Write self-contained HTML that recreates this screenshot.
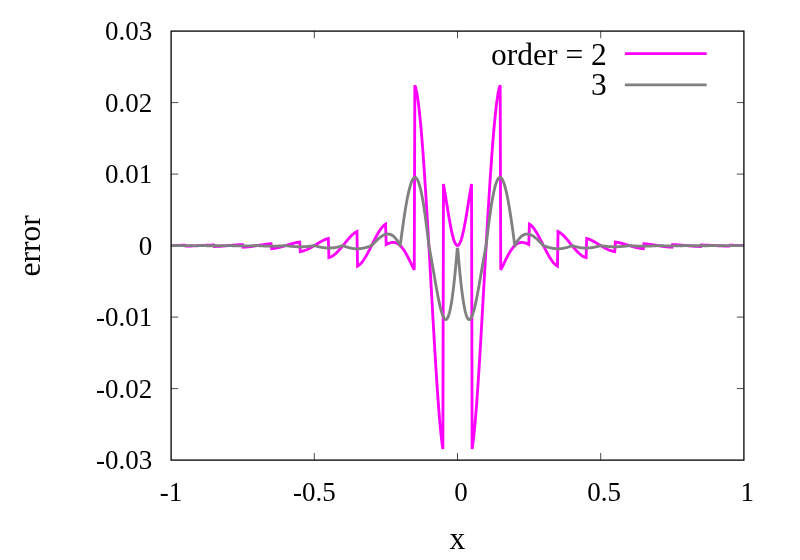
<!DOCTYPE html>
<html><head><meta charset="utf-8"><title>plot</title>
<style>html,body{margin:0;padding:0;background:#fff;}body{width:800px;height:560px;overflow:hidden;font-family:"Liberation Serif",serif;}svg{display:block;will-change:transform;}</style>
</head><body>
<svg width="800" height="560" viewBox="0 0 800 560">
<rect width="800" height="560" fill="#fff"/>
<path d="M171.10,102.60 h7.10 M743.90,102.60 h-7.10 M171.10,174.10 h7.10 M743.90,174.10 h-7.10 M171.10,245.60 h7.10 M743.90,245.60 h-7.10 M171.10,317.10 h7.10 M743.90,317.10 h-7.10 M171.10,388.60 h7.10 M743.90,388.60 h-7.10 M314.30,460.10 v-7.10 M314.30,31.10 v7.10 M457.50,460.10 v-7.10 M457.50,31.10 v7.10 M600.70,460.10 v-7.10 M600.70,31.10 v7.10" stroke="#000" stroke-width="0.7" fill="none"/>
<path d="M171.39,245.59 L171.96,245.57 L172.53,245.55 L173.10,245.53 L173.68,245.51 L174.25,245.50 L174.82,245.48 L175.40,245.46 L175.97,245.44 L176.54,245.42 L177.11,245.40 L177.69,245.39 L178.26,245.37 L178.83,245.35 L179.41,245.34 L179.98,245.32 L180.55,245.31 L181.12,245.30 L181.70,245.28 L182.27,245.27 L182.84,245.26 L183.42,245.25 L183.99,245.24 L184.56,245.23 L185.13,245.22 L185.71,246.14 L186.28,246.13 L186.85,246.12 L187.42,246.11 L188.00,246.10 L188.57,246.09 L189.14,246.07 L189.72,246.05 L190.29,246.04 L190.86,246.02 L191.43,246.00 L192.01,245.97 L192.58,245.95 L193.15,245.93 L193.73,245.90 L194.30,245.88 L194.87,245.85 L195.44,245.82 L196.02,245.79 L196.59,245.77 L197.16,245.74 L197.74,245.71 L198.31,245.68 L198.88,245.65 L199.45,245.62 L200.03,245.58 L200.60,245.55 L201.17,245.52 L201.74,245.49 L202.32,245.46 L202.89,245.43 L203.46,245.40 L204.04,245.37 L204.61,245.34 L205.18,245.31 L205.75,245.28 L206.33,245.25 L206.90,245.23 L207.47,245.20 L208.05,245.18 L208.62,245.15 L209.19,245.13 L209.76,245.10 L210.34,245.08 L210.91,245.06 L211.48,245.05 L212.06,245.03 L212.63,245.01 L213.20,245.00 L213.77,244.99 L214.35,246.51 L214.92,246.50 L215.49,246.48 L216.06,246.47 L216.64,246.44 L217.21,246.42 L217.78,246.39 L218.36,246.37 L218.93,246.34 L219.50,246.30 L220.07,246.27 L220.65,246.23 L221.22,246.19 L221.79,246.15 L222.37,246.11 L222.94,246.07 L223.51,246.02 L224.08,245.98 L224.66,245.93 L225.23,245.88 L225.80,245.83 L226.38,245.78 L226.95,245.73 L227.52,245.68 L228.09,245.63 L228.67,245.57 L229.24,245.52 L229.81,245.47 L230.38,245.42 L230.96,245.36 L231.53,245.31 L232.10,245.26 L232.68,245.21 L233.25,245.16 L233.82,245.11 L234.39,245.06 L234.97,245.01 L235.54,244.97 L236.11,244.92 L236.69,244.88 L237.26,244.84 L237.83,244.79 L238.40,244.76 L238.98,244.72 L239.55,244.69 L240.12,244.66 L240.70,244.63 L241.27,244.60 L241.84,244.58 L242.41,244.56 L242.99,247.22 L243.56,247.19 L244.13,247.17 L244.70,247.14 L245.28,247.10 L245.85,247.06 L246.42,247.01 L247.00,246.96 L247.57,246.91 L248.14,246.85 L248.71,246.79 L249.29,246.72 L249.86,246.65 L250.43,246.58 L251.01,246.51 L251.58,246.43 L252.15,246.35 L252.72,246.27 L253.30,246.18 L253.87,246.10 L254.44,246.01 L255.02,245.92 L255.59,245.83 L256.16,245.74 L256.73,245.65 L257.31,245.55 L257.88,245.46 L258.45,245.37 L259.02,245.27 L259.60,245.18 L260.17,245.08 L260.74,244.99 L261.32,244.90 L261.89,244.81 L262.46,244.72 L263.03,244.63 L263.61,244.55 L264.18,244.46 L264.75,244.38 L265.33,244.30 L265.90,244.23 L266.47,244.16 L267.04,244.09 L267.62,244.02 L268.19,243.96 L268.76,243.91 L269.34,243.85 L269.91,243.81 L270.48,243.76 L271.05,243.73 L271.63,248.63 L272.20,248.59 L272.77,248.54 L273.34,248.48 L273.92,248.41 L274.49,248.33 L275.06,248.25 L275.64,248.15 L276.21,248.05 L276.78,247.94 L277.35,247.83 L277.93,247.71 L278.50,247.58 L279.07,247.45 L279.65,247.31 L280.22,247.16 L280.79,247.01 L281.36,246.86 L281.94,246.70 L282.51,246.54 L283.08,246.37 L283.66,246.21 L284.23,246.03 L284.80,245.86 L285.37,245.69 L285.95,245.51 L286.52,245.34 L287.09,245.16 L287.66,244.98 L288.24,244.80 L288.81,244.63 L289.38,244.45 L289.96,244.28 L290.53,244.11 L291.10,243.94 L291.67,243.77 L292.25,243.61 L292.82,243.45 L293.39,243.30 L293.97,243.15 L294.54,243.01 L295.11,242.87 L295.68,242.74 L296.26,242.61 L296.83,242.50 L297.40,242.39 L297.98,242.29 L298.55,242.20 L299.12,242.11 L299.69,242.04 L300.27,251.57 L300.84,251.49 L301.41,251.40 L301.98,251.28 L302.56,251.14 L303.13,250.99 L303.70,250.83 L304.28,250.64 L304.85,250.44 L305.42,250.23 L305.99,250.01 L306.57,249.77 L307.14,249.51 L307.71,249.25 L308.29,248.97 L308.86,248.69 L309.43,248.39 L310.00,248.09 L310.58,247.78 L311.15,247.46 L311.72,247.13 L312.30,246.80 L312.87,246.46 L313.44,246.12 L314.01,245.77 L314.59,245.43 L315.16,245.07 L315.73,244.72 L316.30,244.37 L316.88,244.02 L317.45,243.67 L318.02,243.32 L318.60,242.98 L319.17,242.64 L319.74,242.30 L320.31,241.97 L320.89,241.65 L321.46,241.33 L322.03,241.02 L322.61,240.73 L323.18,240.44 L323.75,240.17 L324.32,239.90 L324.90,239.66 L325.47,239.42 L326.04,239.20 L326.62,239.00 L327.19,238.82 L327.76,238.66 L328.33,238.51 L328.91,257.59 L329.48,257.43 L330.05,257.23 L330.62,256.99 L331.20,256.72 L331.77,256.42 L332.34,256.08 L332.92,255.72 L333.49,255.32 L334.06,254.89 L334.63,254.44 L335.21,253.95 L335.78,253.45 L336.35,252.92 L336.93,252.37 L337.50,251.79 L338.07,251.20 L338.64,250.59 L339.22,249.96 L339.79,249.32 L340.36,248.67 L340.94,248.00 L341.51,247.33 L342.08,246.64 L342.65,245.95 L343.23,245.25 L343.80,244.55 L344.37,243.84 L344.94,243.14 L345.52,242.44 L346.09,241.74 L346.66,241.04 L347.24,240.35 L347.81,239.67 L348.38,239.00 L348.95,238.35 L349.53,237.70 L350.10,237.07 L350.67,236.46 L351.25,235.87 L351.82,235.30 L352.39,234.76 L352.96,234.24 L353.54,233.75 L354.11,233.28 L354.68,232.85 L355.26,232.46 L355.83,232.10 L356.40,231.78 L356.97,231.50 L357.55,266.10 L358.12,265.80 L358.69,265.43 L359.26,265.00 L359.84,264.51 L360.41,263.97 L360.98,263.37 L361.56,262.72 L362.13,262.02 L362.70,261.27 L363.27,260.48 L363.85,259.64 L364.42,258.77 L364.99,257.86 L365.57,256.91 L366.14,255.93 L366.71,254.93 L367.28,253.90 L367.86,252.84 L368.43,251.77 L369.00,250.67 L369.58,249.56 L370.15,248.44 L370.72,247.31 L371.29,246.17 L371.87,245.03 L372.44,243.89 L373.01,242.74 L373.58,241.61 L374.16,240.48 L374.73,239.36 L375.30,238.26 L375.88,237.17 L376.45,236.10 L377.02,235.05 L377.59,234.03 L378.17,233.04 L378.74,232.08 L379.31,231.16 L379.89,230.27 L380.46,229.42 L381.03,228.62 L381.60,227.86 L382.18,227.15 L382.75,226.50 L383.32,225.90 L383.90,225.36 L384.47,224.88 L385.04,224.46 L385.61,224.12 L386.19,244.46 L386.76,244.18 L387.33,243.92 L387.90,243.67 L388.48,243.44 L389.05,243.22 L389.62,243.02 L390.20,242.85 L390.77,242.70 L391.34,242.58 L391.91,242.49 L392.49,242.43 L393.06,242.40 L393.63,242.41 L394.21,242.46 L394.78,242.54 L395.35,242.67 L395.92,242.84 L396.50,243.06 L397.07,243.32 L397.64,243.62 L398.22,243.98 L398.79,244.38 L399.36,244.83 L399.93,245.33 L400.51,245.88 L401.08,246.48 L401.65,247.13 L402.22,247.83 L402.80,248.57 L403.37,249.37 L403.94,250.20 L404.52,251.09 L405.09,252.01 L405.66,252.98 L406.23,253.98 L406.81,255.02 L407.38,256.10 L407.95,257.20 L408.53,258.32 L409.10,259.47 L409.67,260.63 L410.24,261.81 L410.82,262.99 L411.39,264.17 L411.96,265.34 L412.54,266.50 L413.11,267.64 L413.68,268.75 L414.25,269.83 L414.83,85.31 L415.40,86.88 L415.97,88.97 L416.54,91.59 L417.12,94.71 L417.69,98.33 L418.26,102.43 L418.84,107.00 L419.41,112.02 L419.98,117.49 L420.55,123.39 L421.13,129.69 L421.70,136.39 L422.27,143.47 L422.85,150.91 L423.42,158.68 L423.99,166.78 L424.56,175.18 L425.14,183.87 L425.71,192.81 L426.28,201.99 L426.86,211.38 L427.43,220.96 L428.00,230.72 L428.57,240.61 L429.15,250.62 L429.72,260.72 L430.29,270.88 L430.86,281.07 L431.44,291.28 L432.01,301.46 L432.58,311.59 L433.16,321.63 L433.73,331.57 L434.30,341.36 L434.87,350.98 L435.45,360.39 L436.02,369.56 L436.59,378.46 L437.17,387.06 L437.74,395.32 L438.31,403.21 L438.88,410.70 L439.46,417.75 L440.03,424.33 L440.60,430.41 L441.18,435.95 L441.75,440.92 L442.32,445.28 L442.89,449.02 L443.47,184.07 L444.04,187.29 L444.61,190.65 L445.18,194.10 L445.76,197.62 L446.33,201.18 L446.90,204.76 L447.48,208.31 L448.05,211.83 L448.62,215.27 L449.19,218.63 L449.77,221.87 L450.34,224.98 L450.91,227.92 L451.49,230.69 L452.06,233.27 L452.63,235.64 L453.20,237.78 L453.78,239.69 L454.35,241.34 L454.92,242.73 L455.50,243.86 L456.07,244.71 L456.64,245.28 L457.21,245.56 L457.79,245.56 L458.36,245.28 L458.93,244.71 L459.50,243.86 L460.08,242.73 L460.65,241.34 L461.22,239.69 L461.80,237.78 L462.37,235.64 L462.94,233.27 L463.51,230.69 L464.09,227.92 L464.66,224.98 L465.23,221.87 L465.81,218.63 L466.38,215.27 L466.95,211.83 L467.52,208.31 L468.10,204.76 L468.67,201.18 L469.24,197.62 L469.82,194.10 L470.39,190.65 L470.96,187.29 L471.53,184.07 L472.11,449.02 L472.68,445.28 L473.25,440.92 L473.82,435.95 L474.40,430.41 L474.97,424.33 L475.54,417.75 L476.12,410.70 L476.69,403.21 L477.26,395.32 L477.83,387.06 L478.41,378.46 L478.98,369.56 L479.55,360.39 L480.13,350.98 L480.70,341.36 L481.27,331.57 L481.84,321.63 L482.42,311.59 L482.99,301.46 L483.56,291.28 L484.14,281.07 L484.71,270.88 L485.28,260.72 L485.85,250.62 L486.43,240.61 L487.00,230.72 L487.57,220.96 L488.14,211.38 L488.72,201.99 L489.29,192.81 L489.86,183.87 L490.44,175.18 L491.01,166.78 L491.58,158.68 L492.15,150.91 L492.73,143.47 L493.30,136.39 L493.87,129.69 L494.45,123.39 L495.02,117.49 L495.59,112.02 L496.16,107.00 L496.74,102.43 L497.31,98.33 L497.88,94.71 L498.46,91.59 L499.03,88.97 L499.60,86.88 L500.17,85.31 L500.75,269.83 L501.32,268.75 L501.89,267.64 L502.46,266.50 L503.04,265.34 L503.61,264.17 L504.18,262.99 L504.76,261.81 L505.33,260.63 L505.90,259.47 L506.47,258.32 L507.05,257.20 L507.62,256.10 L508.19,255.02 L508.77,253.98 L509.34,252.98 L509.91,252.01 L510.48,251.09 L511.06,250.20 L511.63,249.37 L512.20,248.57 L512.78,247.83 L513.35,247.13 L513.92,246.48 L514.49,245.88 L515.07,245.33 L515.64,244.83 L516.21,244.38 L516.78,243.98 L517.36,243.62 L517.93,243.32 L518.50,243.06 L519.08,242.84 L519.65,242.67 L520.22,242.54 L520.79,242.46 L521.37,242.41 L521.94,242.40 L522.51,242.43 L523.09,242.49 L523.66,242.58 L524.23,242.70 L524.80,242.85 L525.38,243.02 L525.95,243.22 L526.52,243.44 L527.10,243.67 L527.67,243.92 L528.24,244.18 L528.81,244.46 L529.39,224.12 L529.96,224.46 L530.53,224.88 L531.10,225.36 L531.68,225.90 L532.25,226.50 L532.82,227.15 L533.40,227.86 L533.97,228.62 L534.54,229.42 L535.11,230.27 L535.69,231.16 L536.26,232.08 L536.83,233.04 L537.41,234.03 L537.98,235.05 L538.55,236.10 L539.12,237.17 L539.70,238.26 L540.27,239.36 L540.84,240.48 L541.42,241.61 L541.99,242.74 L542.56,243.89 L543.13,245.03 L543.71,246.17 L544.28,247.31 L544.85,248.44 L545.42,249.56 L546.00,250.67 L546.57,251.77 L547.14,252.84 L547.72,253.90 L548.29,254.93 L548.86,255.93 L549.43,256.91 L550.01,257.86 L550.58,258.77 L551.15,259.64 L551.73,260.48 L552.30,261.27 L552.87,262.02 L553.44,262.72 L554.02,263.37 L554.59,263.97 L555.16,264.51 L555.74,265.00 L556.31,265.43 L556.88,265.80 L557.45,266.10 L558.03,231.50 L558.60,231.78 L559.17,232.10 L559.74,232.46 L560.32,232.85 L560.89,233.28 L561.46,233.75 L562.04,234.24 L562.61,234.76 L563.18,235.30 L563.75,235.87 L564.33,236.46 L564.90,237.07 L565.47,237.70 L566.05,238.35 L566.62,239.00 L567.19,239.67 L567.76,240.35 L568.34,241.04 L568.91,241.74 L569.48,242.44 L570.06,243.14 L570.63,243.84 L571.20,244.55 L571.77,245.25 L572.35,245.95 L572.92,246.64 L573.49,247.33 L574.06,248.00 L574.64,248.67 L575.21,249.32 L575.78,249.96 L576.36,250.59 L576.93,251.20 L577.50,251.79 L578.07,252.37 L578.65,252.92 L579.22,253.45 L579.79,253.95 L580.37,254.44 L580.94,254.89 L581.51,255.32 L582.08,255.72 L582.66,256.08 L583.23,256.42 L583.80,256.72 L584.38,256.99 L584.95,257.23 L585.52,257.43 L586.09,257.59 L586.67,238.51 L587.24,238.66 L587.81,238.82 L588.38,239.00 L588.96,239.20 L589.53,239.42 L590.10,239.66 L590.68,239.90 L591.25,240.17 L591.82,240.44 L592.39,240.73 L592.97,241.02 L593.54,241.33 L594.11,241.65 L594.69,241.97 L595.26,242.30 L595.83,242.64 L596.40,242.98 L596.98,243.32 L597.55,243.67 L598.12,244.02 L598.70,244.37 L599.27,244.72 L599.84,245.07 L600.41,245.43 L600.99,245.77 L601.56,246.12 L602.13,246.46 L602.70,246.80 L603.28,247.13 L603.85,247.46 L604.42,247.78 L605.00,248.09 L605.57,248.39 L606.14,248.69 L606.71,248.97 L607.29,249.25 L607.86,249.51 L608.43,249.77 L609.01,250.01 L609.58,250.23 L610.15,250.44 L610.72,250.64 L611.30,250.83 L611.87,250.99 L612.44,251.14 L613.02,251.28 L613.59,251.40 L614.16,251.49 L614.73,251.57 L615.31,242.04 L615.88,242.11 L616.45,242.20 L617.02,242.29 L617.60,242.39 L618.17,242.50 L618.74,242.61 L619.32,242.74 L619.89,242.87 L620.46,243.01 L621.03,243.15 L621.61,243.30 L622.18,243.45 L622.75,243.61 L623.33,243.77 L623.90,243.94 L624.47,244.11 L625.04,244.28 L625.62,244.45 L626.19,244.63 L626.76,244.80 L627.34,244.98 L627.91,245.16 L628.48,245.34 L629.05,245.51 L629.63,245.69 L630.20,245.86 L630.77,246.03 L631.34,246.21 L631.92,246.37 L632.49,246.54 L633.06,246.70 L633.64,246.86 L634.21,247.01 L634.78,247.16 L635.35,247.31 L635.93,247.45 L636.50,247.58 L637.07,247.71 L637.65,247.83 L638.22,247.94 L638.79,248.05 L639.36,248.15 L639.94,248.25 L640.51,248.33 L641.08,248.41 L641.66,248.48 L642.23,248.54 L642.80,248.59 L643.37,248.63 L643.95,243.73 L644.52,243.76 L645.09,243.81 L645.66,243.85 L646.24,243.91 L646.81,243.96 L647.38,244.02 L647.96,244.09 L648.53,244.16 L649.10,244.23 L649.67,244.30 L650.25,244.38 L650.82,244.46 L651.39,244.55 L651.97,244.63 L652.54,244.72 L653.11,244.81 L653.68,244.90 L654.26,244.99 L654.83,245.08 L655.40,245.18 L655.98,245.27 L656.55,245.37 L657.12,245.46 L657.69,245.55 L658.27,245.65 L658.84,245.74 L659.41,245.83 L659.98,245.92 L660.56,246.01 L661.13,246.10 L661.70,246.18 L662.28,246.27 L662.85,246.35 L663.42,246.43 L663.99,246.51 L664.57,246.58 L665.14,246.65 L665.71,246.72 L666.29,246.79 L666.86,246.85 L667.43,246.91 L668.00,246.96 L668.58,247.01 L669.15,247.06 L669.72,247.10 L670.30,247.14 L670.87,247.17 L671.44,247.19 L672.01,247.22 L672.59,244.56 L673.16,244.58 L673.73,244.60 L674.30,244.63 L674.88,244.66 L675.45,244.69 L676.02,244.72 L676.60,244.76 L677.17,244.79 L677.74,244.84 L678.31,244.88 L678.89,244.92 L679.46,244.97 L680.03,245.01 L680.61,245.06 L681.18,245.11 L681.75,245.16 L682.32,245.21 L682.90,245.26 L683.47,245.31 L684.04,245.36 L684.62,245.42 L685.19,245.47 L685.76,245.52 L686.33,245.57 L686.91,245.63 L687.48,245.68 L688.05,245.73 L688.62,245.78 L689.20,245.83 L689.77,245.88 L690.34,245.93 L690.92,245.98 L691.49,246.02 L692.06,246.07 L692.63,246.11 L693.21,246.15 L693.78,246.19 L694.35,246.23 L694.93,246.27 L695.50,246.30 L696.07,246.34 L696.64,246.37 L697.22,246.39 L697.79,246.42 L698.36,246.44 L698.94,246.47 L699.51,246.48 L700.08,246.50 L700.65,246.51 L701.23,244.99 L701.80,245.00 L702.37,245.01 L702.94,245.03 L703.52,245.05 L704.09,245.06 L704.66,245.08 L705.24,245.10 L705.81,245.13 L706.38,245.15 L706.95,245.18 L707.53,245.20 L708.10,245.23 L708.67,245.25 L709.25,245.28 L709.82,245.31 L710.39,245.34 L710.96,245.37 L711.54,245.40 L712.11,245.43 L712.68,245.46 L713.26,245.49 L713.83,245.52 L714.40,245.55 L714.97,245.58 L715.55,245.62 L716.12,245.65 L716.69,245.68 L717.26,245.71 L717.84,245.74 L718.41,245.77 L718.98,245.79 L719.56,245.82 L720.13,245.85 L720.70,245.88 L721.27,245.90 L721.85,245.93 L722.42,245.95 L722.99,245.97 L723.57,246.00 L724.14,246.02 L724.71,246.04 L725.28,246.05 L725.86,246.07 L726.43,246.09 L727.00,246.10 L727.58,246.11 L728.15,246.12 L728.72,246.13 L729.29,246.14 L729.87,245.22 L730.44,245.23 L731.01,245.24 L731.58,245.25 L732.16,245.26 L732.73,245.27 L733.30,245.28 L733.88,245.30 L734.45,245.31 L735.02,245.32 L735.59,245.34 L736.17,245.35 L736.74,245.37 L737.31,245.39 L737.89,245.40 L738.46,245.42 L739.03,245.44 L739.60,245.46 L740.18,245.48 L740.75,245.50 L741.32,245.51 L741.90,245.53 L742.47,245.55 L743.04,245.57 L743.61,245.59" stroke="#ff00ff" stroke-width="2.85" fill="none" stroke-linejoin="miter" stroke-miterlimit="4" stroke-linecap="butt"/>
<path d="M171.39,245.60 L171.96,245.61 L172.53,245.61 L173.10,245.62 L173.68,245.62 L174.25,245.63 L174.82,245.63 L175.40,245.64 L175.97,245.64 L176.54,245.65 L177.11,245.65 L177.69,245.66 L178.26,245.66 L178.83,245.66 L179.41,245.67 L179.98,245.67 L180.55,245.67 L181.12,245.67 L181.70,245.68 L182.27,245.68 L182.84,245.68 L183.42,245.68 L183.99,245.68 L184.56,245.68 L185.13,245.68 L185.71,245.68 L186.28,245.68 L186.85,245.68 L187.42,245.68 L188.00,245.68 L188.57,245.68 L189.14,245.68 L189.72,245.68 L190.29,245.67 L190.86,245.67 L191.43,245.67 L192.01,245.67 L192.58,245.66 L193.15,245.66 L193.73,245.65 L194.30,245.65 L194.87,245.65 L195.44,245.64 L196.02,245.64 L196.59,245.63 L197.16,245.63 L197.74,245.62 L198.31,245.62 L198.88,245.61 L199.45,245.60 L200.03,245.61 L200.60,245.61 L201.17,245.62 L201.74,245.63 L202.32,245.64 L202.89,245.65 L203.46,245.66 L204.04,245.67 L204.61,245.68 L205.18,245.69 L205.75,245.69 L206.33,245.70 L206.90,245.71 L207.47,245.71 L208.05,245.72 L208.62,245.72 L209.19,245.73 L209.76,245.73 L210.34,245.74 L210.91,245.74 L211.48,245.74 L212.06,245.75 L212.63,245.75 L213.20,245.75 L213.77,245.75 L214.35,245.75 L214.92,245.75 L215.49,245.75 L216.06,245.75 L216.64,245.75 L217.21,245.74 L217.78,245.74 L218.36,245.74 L218.93,245.73 L219.50,245.73 L220.07,245.72 L220.65,245.72 L221.22,245.71 L221.79,245.71 L222.37,245.70 L222.94,245.69 L223.51,245.68 L224.08,245.68 L224.66,245.67 L225.23,245.66 L225.80,245.65 L226.38,245.64 L226.95,245.63 L227.52,245.62 L228.09,245.61 L228.67,245.61 L229.24,245.63 L229.81,245.65 L230.38,245.66 L230.96,245.68 L231.53,245.70 L232.10,245.72 L232.68,245.73 L233.25,245.75 L233.82,245.76 L234.39,245.78 L234.97,245.79 L235.54,245.80 L236.11,245.81 L236.69,245.83 L237.26,245.84 L237.83,245.85 L238.40,245.85 L238.98,245.86 L239.55,245.87 L240.12,245.87 L240.70,245.88 L241.27,245.88 L241.84,245.88 L242.41,245.89 L242.99,245.89 L243.56,245.89 L244.13,245.89 L244.70,245.88 L245.28,245.88 L245.85,245.88 L246.42,245.87 L247.00,245.86 L247.57,245.86 L248.14,245.85 L248.71,245.84 L249.29,245.83 L249.86,245.82 L250.43,245.80 L251.01,245.79 L251.58,245.78 L252.15,245.76 L252.72,245.75 L253.30,245.73 L253.87,245.71 L254.44,245.69 L255.02,245.67 L255.59,245.65 L256.16,245.63 L256.73,245.61 L257.31,245.62 L257.88,245.66 L258.45,245.69 L259.02,245.73 L259.60,245.77 L260.17,245.80 L260.74,245.83 L261.32,245.87 L261.89,245.90 L262.46,245.93 L263.03,245.95 L263.61,245.98 L264.18,246.01 L264.75,246.03 L265.33,246.05 L265.90,246.07 L266.47,246.09 L267.04,246.11 L267.62,246.12 L268.19,246.14 L268.76,246.15 L269.34,246.16 L269.91,246.17 L270.48,246.17 L271.05,246.18 L271.63,246.18 L272.20,246.18 L272.77,246.18 L273.34,246.17 L273.92,246.16 L274.49,246.16 L275.06,246.14 L275.64,246.13 L276.21,246.12 L276.78,246.10 L277.35,246.08 L277.93,246.06 L278.50,246.04 L279.07,246.01 L279.65,245.98 L280.22,245.96 L280.79,245.93 L281.36,245.89 L281.94,245.86 L282.51,245.82 L283.08,245.79 L283.66,245.75 L284.23,245.71 L284.80,245.66 L285.37,245.62 L285.95,245.64 L286.52,245.72 L287.09,245.80 L287.66,245.87 L288.24,245.95 L288.81,246.02 L289.38,246.09 L289.96,246.15 L290.53,246.22 L291.10,246.28 L291.67,246.34 L292.25,246.40 L292.82,246.45 L293.39,246.50 L293.97,246.55 L294.54,246.59 L295.11,246.63 L295.68,246.67 L296.26,246.70 L296.83,246.73 L297.40,246.75 L297.98,246.77 L298.55,246.79 L299.12,246.80 L299.69,246.81 L300.27,246.81 L300.84,246.81 L301.41,246.80 L301.98,246.80 L302.56,246.78 L303.13,246.76 L303.70,246.74 L304.28,246.71 L304.85,246.68 L305.42,246.65 L305.99,246.61 L306.57,246.56 L307.14,246.52 L307.71,246.46 L308.29,246.41 L308.86,246.35 L309.43,246.28 L310.00,246.21 L310.58,246.14 L311.15,246.07 L311.72,245.99 L312.30,245.91 L312.87,245.82 L313.44,245.74 L314.01,245.65 L314.59,245.68 L315.16,245.84 L315.73,246.00 L316.30,246.15 L316.88,246.31 L317.45,246.45 L318.02,246.59 L318.60,246.73 L319.17,246.86 L319.74,246.99 L320.31,247.11 L320.89,247.22 L321.46,247.33 L322.03,247.43 L322.61,247.53 L323.18,247.61 L323.75,247.69 L324.32,247.77 L324.90,247.83 L325.47,247.89 L326.04,247.94 L326.62,247.98 L327.19,248.01 L327.76,248.03 L328.33,248.05 L328.91,248.05 L329.48,248.05 L330.05,248.04 L330.62,248.02 L331.20,247.99 L331.77,247.95 L332.34,247.91 L332.92,247.85 L333.49,247.79 L334.06,247.72 L334.63,247.63 L335.21,247.54 L335.78,247.45 L336.35,247.34 L336.93,247.23 L337.50,247.10 L338.07,246.97 L338.64,246.84 L339.22,246.69 L339.79,246.54 L340.36,246.38 L340.94,246.22 L341.51,246.05 L342.08,245.87 L342.65,245.69 L343.23,245.72 L343.80,245.94 L344.37,246.16 L344.94,246.38 L345.52,246.59 L346.09,246.79 L346.66,246.98 L347.24,247.17 L347.81,247.34 L348.38,247.51 L348.95,247.67 L349.53,247.82 L350.10,247.96 L350.67,248.09 L351.25,248.21 L351.82,248.32 L352.39,248.42 L352.96,248.51 L353.54,248.58 L354.11,248.65 L354.68,248.70 L355.26,248.75 L355.83,248.78 L356.40,248.79 L356.97,248.80 L357.55,248.80 L358.12,248.78 L358.69,248.75 L359.26,248.71 L359.84,248.66 L360.41,248.60 L360.98,248.53 L361.56,248.45 L362.13,248.35 L362.70,248.25 L363.27,248.13 L363.85,248.01 L364.42,247.88 L364.99,247.73 L365.57,247.58 L366.14,247.43 L366.71,247.26 L367.28,247.08 L367.86,246.90 L368.43,246.72 L369.00,246.52 L369.58,246.33 L370.15,246.12 L370.72,245.92 L371.29,245.71 L371.87,245.30 L372.44,244.71 L373.01,244.12 L373.58,243.52 L374.16,242.93 L374.73,242.35 L375.30,241.77 L375.88,241.20 L376.45,240.64 L377.02,240.09 L377.59,239.55 L378.17,239.03 L378.74,238.53 L379.31,238.04 L379.89,237.57 L380.46,237.13 L381.03,236.71 L381.60,236.31 L382.18,235.94 L382.75,235.59 L383.32,235.28 L383.90,235.00 L384.47,234.75 L385.04,234.53 L385.61,234.36 L386.19,234.22 L386.76,234.11 L387.33,234.05 L387.90,234.03 L388.48,234.06 L389.05,234.13 L389.62,234.24 L390.20,234.40 L390.77,234.61 L391.34,234.87 L391.91,235.18 L392.49,235.54 L393.06,235.95 L393.63,236.42 L394.21,236.94 L394.78,237.51 L395.35,238.13 L395.92,238.81 L396.50,239.54 L397.07,240.33 L397.64,241.17 L398.22,242.06 L398.79,243.01 L399.36,244.01 L399.93,245.06 L400.51,243.41 L401.08,239.06 L401.65,234.79 L402.22,230.59 L402.80,226.48 L403.37,222.47 L403.94,218.57 L404.52,214.80 L405.09,211.15 L405.66,207.65 L406.23,204.30 L406.81,201.11 L407.38,198.09 L407.95,195.24 L408.53,192.58 L409.10,190.12 L409.67,187.85 L410.24,185.79 L410.82,183.95 L411.39,182.32 L411.96,180.92 L412.54,179.76 L413.11,178.82 L413.68,178.13 L414.25,177.67 L414.83,177.46 L415.40,177.50 L415.97,177.79 L416.54,178.33 L417.12,179.13 L417.69,180.17 L418.26,181.47 L418.84,183.01 L419.41,184.80 L419.98,186.84 L420.55,189.13 L421.13,191.65 L421.70,194.40 L422.27,197.38 L422.85,200.59 L423.42,204.01 L423.99,207.64 L424.56,211.47 L425.14,215.50 L425.71,219.70 L426.28,224.08 L426.86,228.62 L427.43,233.31 L428.00,238.13 L428.57,243.08 L429.15,247.04 L429.72,250.00 L430.29,253.05 L430.86,256.17 L431.44,259.36 L432.01,262.61 L432.58,265.90 L433.16,269.21 L433.73,272.55 L434.30,275.89 L434.87,279.21 L435.45,282.51 L436.02,285.77 L436.59,288.98 L437.17,292.11 L437.74,295.15 L438.31,298.08 L438.88,300.90 L439.46,303.58 L440.03,306.11 L440.60,308.47 L441.18,310.65 L441.75,312.62 L442.32,314.38 L442.89,315.90 L443.47,317.18 L444.04,318.20 L444.61,318.95 L445.18,319.40 L445.76,319.56 L446.33,319.40 L446.90,318.92 L447.48,318.11 L448.05,316.95 L448.62,315.45 L449.19,313.59 L449.77,311.36 L450.34,308.76 L450.91,305.80 L451.49,302.46 L452.06,298.74 L452.63,294.66 L453.20,290.20 L453.78,285.37 L454.35,280.19 L454.92,274.65 L455.50,268.76 L456.07,262.54 L456.64,255.99 L457.21,249.14 L457.79,249.14 L458.36,255.99 L458.93,262.54 L459.50,268.76 L460.08,274.65 L460.65,280.19 L461.22,285.37 L461.80,290.20 L462.37,294.66 L462.94,298.74 L463.51,302.46 L464.09,305.80 L464.66,308.76 L465.23,311.36 L465.81,313.59 L466.38,315.45 L466.95,316.95 L467.52,318.11 L468.10,318.92 L468.67,319.40 L469.24,319.56 L469.82,319.40 L470.39,318.95 L470.96,318.20 L471.53,317.18 L472.11,315.90 L472.68,314.38 L473.25,312.62 L473.82,310.65 L474.40,308.47 L474.97,306.11 L475.54,303.58 L476.12,300.90 L476.69,298.08 L477.26,295.15 L477.83,292.11 L478.41,288.98 L478.98,285.77 L479.55,282.51 L480.13,279.21 L480.70,275.89 L481.27,272.55 L481.84,269.21 L482.42,265.90 L482.99,262.61 L483.56,259.36 L484.14,256.17 L484.71,253.05 L485.28,250.00 L485.85,247.04 L486.43,243.08 L487.00,238.13 L487.57,233.31 L488.14,228.62 L488.72,224.08 L489.29,219.70 L489.86,215.50 L490.44,211.47 L491.01,207.64 L491.58,204.01 L492.15,200.59 L492.73,197.38 L493.30,194.40 L493.87,191.65 L494.45,189.13 L495.02,186.84 L495.59,184.80 L496.16,183.01 L496.74,181.47 L497.31,180.17 L497.88,179.13 L498.46,178.33 L499.03,177.79 L499.60,177.50 L500.17,177.46 L500.75,177.67 L501.32,178.13 L501.89,178.82 L502.46,179.76 L503.04,180.92 L503.61,182.32 L504.18,183.95 L504.76,185.79 L505.33,187.85 L505.90,190.12 L506.47,192.58 L507.05,195.24 L507.62,198.09 L508.19,201.11 L508.77,204.30 L509.34,207.65 L509.91,211.15 L510.48,214.80 L511.06,218.57 L511.63,222.47 L512.20,226.48 L512.78,230.59 L513.35,234.79 L513.92,239.06 L514.49,243.41 L515.07,245.06 L515.64,244.01 L516.21,243.01 L516.78,242.06 L517.36,241.17 L517.93,240.33 L518.50,239.54 L519.08,238.81 L519.65,238.13 L520.22,237.51 L520.79,236.94 L521.37,236.42 L521.94,235.95 L522.51,235.54 L523.09,235.18 L523.66,234.87 L524.23,234.61 L524.80,234.40 L525.38,234.24 L525.95,234.13 L526.52,234.06 L527.10,234.03 L527.67,234.05 L528.24,234.11 L528.81,234.22 L529.39,234.36 L529.96,234.53 L530.53,234.75 L531.10,235.00 L531.68,235.28 L532.25,235.59 L532.82,235.94 L533.40,236.31 L533.97,236.71 L534.54,237.13 L535.11,237.57 L535.69,238.04 L536.26,238.53 L536.83,239.03 L537.41,239.55 L537.98,240.09 L538.55,240.64 L539.12,241.20 L539.70,241.77 L540.27,242.35 L540.84,242.93 L541.42,243.52 L541.99,244.12 L542.56,244.71 L543.13,245.30 L543.71,245.71 L544.28,245.92 L544.85,246.12 L545.42,246.33 L546.00,246.52 L546.57,246.72 L547.14,246.90 L547.72,247.08 L548.29,247.26 L548.86,247.43 L549.43,247.58 L550.01,247.73 L550.58,247.88 L551.15,248.01 L551.73,248.13 L552.30,248.25 L552.87,248.35 L553.44,248.45 L554.02,248.53 L554.59,248.60 L555.16,248.66 L555.74,248.71 L556.31,248.75 L556.88,248.78 L557.45,248.80 L558.03,248.80 L558.60,248.79 L559.17,248.78 L559.74,248.75 L560.32,248.70 L560.89,248.65 L561.46,248.58 L562.04,248.51 L562.61,248.42 L563.18,248.32 L563.75,248.21 L564.33,248.09 L564.90,247.96 L565.47,247.82 L566.05,247.67 L566.62,247.51 L567.19,247.34 L567.76,247.17 L568.34,246.98 L568.91,246.79 L569.48,246.59 L570.06,246.38 L570.63,246.16 L571.20,245.94 L571.77,245.72 L572.35,245.69 L572.92,245.87 L573.49,246.05 L574.06,246.22 L574.64,246.38 L575.21,246.54 L575.78,246.69 L576.36,246.84 L576.93,246.97 L577.50,247.10 L578.07,247.23 L578.65,247.34 L579.22,247.45 L579.79,247.54 L580.37,247.63 L580.94,247.72 L581.51,247.79 L582.08,247.85 L582.66,247.91 L583.23,247.95 L583.80,247.99 L584.38,248.02 L584.95,248.04 L585.52,248.05 L586.09,248.05 L586.67,248.05 L587.24,248.03 L587.81,248.01 L588.38,247.98 L588.96,247.94 L589.53,247.89 L590.10,247.83 L590.68,247.77 L591.25,247.69 L591.82,247.61 L592.39,247.53 L592.97,247.43 L593.54,247.33 L594.11,247.22 L594.69,247.11 L595.26,246.99 L595.83,246.86 L596.40,246.73 L596.98,246.59 L597.55,246.45 L598.12,246.31 L598.70,246.15 L599.27,246.00 L599.84,245.84 L600.41,245.68 L600.99,245.65 L601.56,245.74 L602.13,245.82 L602.70,245.91 L603.28,245.99 L603.85,246.07 L604.42,246.14 L605.00,246.21 L605.57,246.28 L606.14,246.35 L606.71,246.41 L607.29,246.46 L607.86,246.52 L608.43,246.56 L609.01,246.61 L609.58,246.65 L610.15,246.68 L610.72,246.71 L611.30,246.74 L611.87,246.76 L612.44,246.78 L613.02,246.80 L613.59,246.80 L614.16,246.81 L614.73,246.81 L615.31,246.81 L615.88,246.80 L616.45,246.79 L617.02,246.77 L617.60,246.75 L618.17,246.73 L618.74,246.70 L619.32,246.67 L619.89,246.63 L620.46,246.59 L621.03,246.55 L621.61,246.50 L622.18,246.45 L622.75,246.40 L623.33,246.34 L623.90,246.28 L624.47,246.22 L625.04,246.15 L625.62,246.09 L626.19,246.02 L626.76,245.95 L627.34,245.87 L627.91,245.80 L628.48,245.72 L629.05,245.64 L629.63,245.62 L630.20,245.66 L630.77,245.71 L631.34,245.75 L631.92,245.79 L632.49,245.82 L633.06,245.86 L633.64,245.89 L634.21,245.93 L634.78,245.96 L635.35,245.98 L635.93,246.01 L636.50,246.04 L637.07,246.06 L637.65,246.08 L638.22,246.10 L638.79,246.12 L639.36,246.13 L639.94,246.14 L640.51,246.16 L641.08,246.16 L641.66,246.17 L642.23,246.18 L642.80,246.18 L643.37,246.18 L643.95,246.18 L644.52,246.17 L645.09,246.17 L645.66,246.16 L646.24,246.15 L646.81,246.14 L647.38,246.12 L647.96,246.11 L648.53,246.09 L649.10,246.07 L649.67,246.05 L650.25,246.03 L650.82,246.01 L651.39,245.98 L651.97,245.95 L652.54,245.93 L653.11,245.90 L653.68,245.87 L654.26,245.83 L654.83,245.80 L655.40,245.77 L655.98,245.73 L656.55,245.69 L657.12,245.66 L657.69,245.62 L658.27,245.61 L658.84,245.63 L659.41,245.65 L659.98,245.67 L660.56,245.69 L661.13,245.71 L661.70,245.73 L662.28,245.75 L662.85,245.76 L663.42,245.78 L663.99,245.79 L664.57,245.80 L665.14,245.82 L665.71,245.83 L666.29,245.84 L666.86,245.85 L667.43,245.86 L668.00,245.86 L668.58,245.87 L669.15,245.88 L669.72,245.88 L670.30,245.88 L670.87,245.89 L671.44,245.89 L672.01,245.89 L672.59,245.89 L673.16,245.88 L673.73,245.88 L674.30,245.88 L674.88,245.87 L675.45,245.87 L676.02,245.86 L676.60,245.85 L677.17,245.85 L677.74,245.84 L678.31,245.83 L678.89,245.81 L679.46,245.80 L680.03,245.79 L680.61,245.78 L681.18,245.76 L681.75,245.75 L682.32,245.73 L682.90,245.72 L683.47,245.70 L684.04,245.68 L684.62,245.66 L685.19,245.65 L685.76,245.63 L686.33,245.61 L686.91,245.61 L687.48,245.62 L688.05,245.63 L688.62,245.64 L689.20,245.65 L689.77,245.66 L690.34,245.67 L690.92,245.68 L691.49,245.68 L692.06,245.69 L692.63,245.70 L693.21,245.71 L693.78,245.71 L694.35,245.72 L694.93,245.72 L695.50,245.73 L696.07,245.73 L696.64,245.74 L697.22,245.74 L697.79,245.74 L698.36,245.75 L698.94,245.75 L699.51,245.75 L700.08,245.75 L700.65,245.75 L701.23,245.75 L701.80,245.75 L702.37,245.75 L702.94,245.75 L703.52,245.74 L704.09,245.74 L704.66,245.74 L705.24,245.73 L705.81,245.73 L706.38,245.72 L706.95,245.72 L707.53,245.71 L708.10,245.71 L708.67,245.70 L709.25,245.69 L709.82,245.69 L710.39,245.68 L710.96,245.67 L711.54,245.66 L712.11,245.65 L712.68,245.64 L713.26,245.63 L713.83,245.62 L714.40,245.61 L714.97,245.61 L715.55,245.60 L716.12,245.61 L716.69,245.62 L717.26,245.62 L717.84,245.63 L718.41,245.63 L718.98,245.64 L719.56,245.64 L720.13,245.65 L720.70,245.65 L721.27,245.65 L721.85,245.66 L722.42,245.66 L722.99,245.67 L723.57,245.67 L724.14,245.67 L724.71,245.67 L725.28,245.68 L725.86,245.68 L726.43,245.68 L727.00,245.68 L727.58,245.68 L728.15,245.68 L728.72,245.68 L729.29,245.68 L729.87,245.68 L730.44,245.68 L731.01,245.68 L731.58,245.68 L732.16,245.68 L732.73,245.68 L733.30,245.68 L733.88,245.67 L734.45,245.67 L735.02,245.67 L735.59,245.67 L736.17,245.66 L736.74,245.66 L737.31,245.66 L737.89,245.65 L738.46,245.65 L739.03,245.64 L739.60,245.64 L740.18,245.63 L740.75,245.63 L741.32,245.62 L741.90,245.62 L742.47,245.61 L743.04,245.61 L743.61,245.60" stroke="#808080" stroke-width="2.85" fill="none" stroke-linejoin="miter" stroke-linecap="butt"/>
<path d="M624.90,53.60 H706.70" stroke="#ff00ff" stroke-width="2.85"/>
<path d="M624.90,84.80 H706.70" stroke="#808080" stroke-width="2.85"/>
<rect x="171.10" y="31.10" width="572.80" height="429.00" fill="none" stroke="#000" stroke-width="1.3"/>
<g font-family="'Liberation Serif', serif" fill="#000">
<g font-size="27.0px">
<text x="152.30" y="40.30" text-anchor="end">0.03</text>
<text x="152.30" y="111.80" text-anchor="end">0.02</text>
<text x="152.30" y="183.30" text-anchor="end">0.01</text>
<text x="152.30" y="254.80" text-anchor="end">0</text>
<text x="152.30" y="326.30" text-anchor="end">-0.01</text>
<text x="152.30" y="397.80" text-anchor="end">-0.02</text>
<text x="152.30" y="469.30" text-anchor="end">-0.03</text>
<text x="171.10" y="500.70" text-anchor="middle">-1</text>
<text x="314.30" y="500.70" text-anchor="middle">-0.5</text>
<text x="460.88" y="500.70" text-anchor="middle">0</text>
<text x="604.07" y="500.70" text-anchor="middle">0.5</text>
<text x="747.27" y="500.70" text-anchor="middle">1</text>
</g>
<g font-size="31.5px">
<text x="457.30" y="548.60" text-anchor="middle">x</text>
<text transform="translate(40.00,245.90) rotate(-90)" text-anchor="middle">error</text>
<text x="606.80" y="64.50" text-anchor="end">order = 2</text>
<text x="606.80" y="95.30" text-anchor="end">3</text>
</g></g>
</svg>
</body></html>
